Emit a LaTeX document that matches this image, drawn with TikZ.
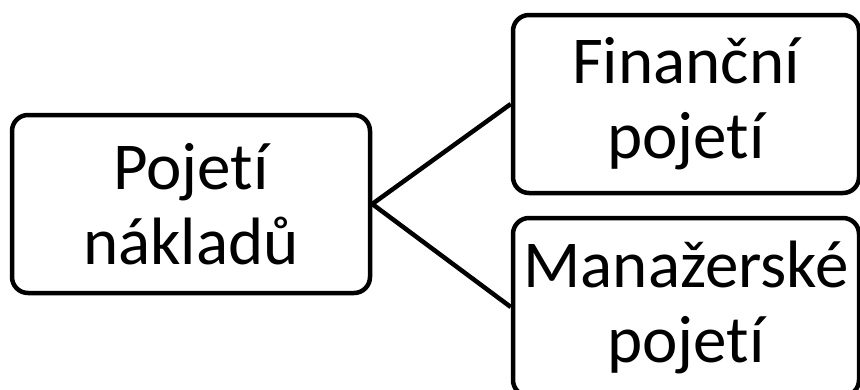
\documentclass[tikz,border=0pt]{standalone}
\usepackage{fontspec}
\setmainfont[Ligatures=NoCommon,RawFeature={-liga;-clig;-dlig}]{Carlito}
\begin{document}
\begin{tikzpicture}[x=1pt,y=-1pt,
  box/.style={draw=black, line width=4.5pt, rounded corners=16pt, fill=white,
    minimum width=#1, minimum height=178pt, align=center, inner sep=0pt,
    font=\fontsize{67}{75}\selectfont},
  link/.style={draw=black, line width=4.5pt}]
\useasboundingbox (0,0) rectangle (860,389);
\clip (0,0) rectangle (860,389);
\node[box=358pt] (root) at (191,204) {Pojetí\\nákladů};
\node[box=346pt] (fin) at (686,104) {Finanční\\pojetí};
\node[box=346pt] (man) at (686,307) {Manažerské\\pojetí};
\draw[link] (root.east) -- (fin.west);
\draw[link] (root.east) -- (man.west);
\end{tikzpicture}
\end{document}
